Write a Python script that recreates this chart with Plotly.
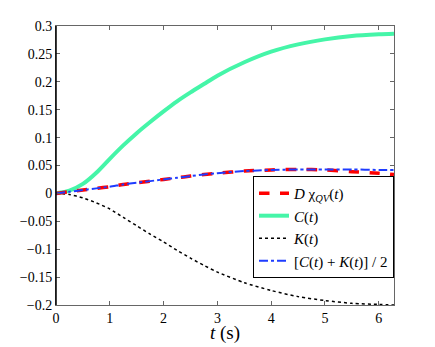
import plotly.graph_objects as go

# time samples (s)
t = [0, 0.25, 0.5, 0.75, 1.0, 1.25, 1.5, 1.75, 2.0, 2.25, 2.5, 2.75,
     3.0, 3.5, 4.0, 4.5, 5.0, 5.5, 6.0, 6.283]

d_chi = [0, 0.003, 0.006, 0.009, 0.012, 0.016, 0.019, 0.022, 0.025, 0.028,
         0.031, 0.034, 0.036, 0.040, 0.042, 0.043, 0.042, 0.039, 0.036, 0.034]
c_t = [0, 0.005, 0.017, 0.037, 0.062, 0.086, 0.108, 0.128, 0.147, 0.165,
       0.181, 0.196, 0.211, 0.235, 0.254, 0.267, 0.276, 0.282, 0.285, 0.286]
k_t = [0, -0.002, -0.008, -0.017, -0.028, -0.043, -0.058, -0.073, -0.087, -0.102,
       -0.116, -0.129, -0.141, -0.160, -0.174, -0.185, -0.192, -0.197, -0.199, -0.200]
ck_half = [0, 0.003, 0.006, 0.009, 0.012, 0.016, 0.019, 0.022, 0.025, 0.028,
           0.031, 0.034, 0.036, 0.040, 0.042, 0.043, 0.043, 0.043, 0.042, 0.042]

x_ticks = [0, 1, 2, 3, 4, 5, 6]
y_ticks = [-0.2, -0.15, -0.1, -0.05, 0, 0.05, 0.1, 0.15, 0.2, 0.25, 0.3]

serif = "Liberation Serif, Times New Roman, serif"
tick_font = dict(family=serif, size=14, color="black")

fig = go.Figure()
fig.add_trace(go.Scatter(x=t, y=k_t, mode="lines", line_shape="spline", line_smoothing=0.7,
                         line=dict(color="black", width=1.5, dash="dot"),
                         name="<i>K</i>(<i>t</i>)", legendrank=3))
fig.add_trace(go.Scatter(x=t, y=c_t, mode="lines", line_shape="spline", line_smoothing=0.7,
                         line=dict(color="#45F5A8", width=4),
                         name="<i>C</i>(<i>t</i>)", legendrank=2))
fig.add_trace(go.Scatter(x=t, y=d_chi, mode="lines", line_shape="spline", line_smoothing=0.7,
                         line=dict(color="#FF0000", width=3.5, dash="dash"),
                         name="<i>D</i> χ<sub><i>QV</i></sub>(<i>t</i>)", legendrank=1))
fig.add_trace(go.Scatter(x=t, y=ck_half, mode="lines", line_shape="spline", line_smoothing=0.7,
                         line=dict(color="#1E3CFF", width=2, dash="dashdot"),
                         name="[<i>C</i>(<i>t</i>) + <i>K</i>(<i>t</i>)] / 2", legendrank=4))

# the page body adds an 8px offset, so the canvas is trimmed to match
fig.update_layout(
    width=427, height=339,
    margin=dict(l=48, r=41, t=18, b=42),
    paper_bgcolor="white", plot_bgcolor="white",
    font=dict(family=serif, size=14, color="black"),
    legend=dict(x=1, xanchor="right", y=0.097, yanchor="bottom",
                bgcolor="white", bordercolor="black", borderwidth=1,
                font=dict(family=serif, size=15), tracegroupgap=0,
                itemwidth=30),
    xaxis=dict(range=[0, 6.283], tickvals=x_ticks, ticks="inside", ticklen=4,
               tickfont=tick_font,
               showgrid=False, zeroline=False, showline=True, linecolor="#666",
               linewidth=1, mirror="ticks", tickcolor="#666"),
    yaxis=dict(range=[-0.2, 0.3], tickvals=y_ticks, ticks="inside", ticklen=4,
               tickfont=tick_font,
               showgrid=False, zeroline=False, showline=True, linecolor="#666",
               linewidth=1, mirror="ticks", tickcolor="#666"),
)
# x-axis title placed as an annotation so it stays inside the small canvas
fig.add_annotation(text="<i>t</i> (s)", xref="paper", yref="paper", x=0.5, y=-0.102,
                   xanchor="center", yanchor="middle", showarrow=False,
                   font=dict(family=serif, size=19))
# darker left spine like the reference
fig.add_shape(type="line", xref="paper", yref="paper", x0=0, x1=0, y0=0, y1=1,
              line=dict(color="black", width=1.5))

fig.write_html("out.html")
